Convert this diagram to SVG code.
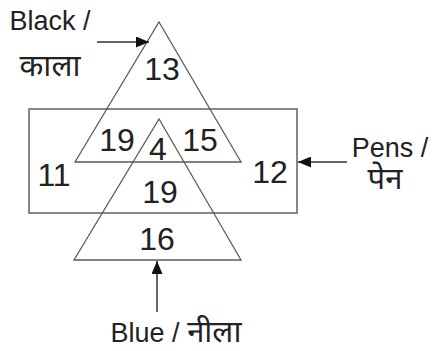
<svg xmlns="http://www.w3.org/2000/svg" width="432" height="351" viewBox="0 0 432 351">
<style>
.shape{fill:none;stroke:#5a5a5a;stroke-width:1.3}
.box{fill:none;stroke:#6a6a6a;stroke-width:1.6}
.num{font-family:"Liberation Sans",Arial,sans-serif;font-size:32px;fill:#222;text-anchor:middle}
.lbl{font-family:"Liberation Sans",Arial,"Noto Sans Devanagari",sans-serif;font-size:27px;fill:#222;text-anchor:middle}
.dev{font-size:31px}
.conn{stroke:#333;stroke-width:1.5;fill:none}
</style>
<defs>
<marker id="arr" viewBox="0 0 10 10" refX="10" refY="5" markerWidth="13" markerHeight="11" markerUnits="userSpaceOnUse" orient="auto" preserveAspectRatio="none">
<path d="M0,0 L10,5 L0,10 z" fill="#111"/>
</marker>
</defs>
<rect width="432" height="351" fill="#fff"/>
<g id="pens">
<rect class="box" x="29" y="109" width="268" height="104"/>
<text class="lbl" x="390" y="157">Pens /</text>
<text class="lbl dev" x="385" y="189">पेन</text>
</g>
<g id="black">
<polygon class="shape" points="159,22 241,162 75,162"/>
<text class="lbl" x="50" y="30">Black /</text>
<text class="lbl dev" x="50" y="76">काला</text>
</g>
<g id="blue">
<polygon class="shape" points="159,119 241,260 74,260"/>
<text class="lbl" x="176" y="342">Blue / <tspan class="dev">नीला</tspan></text>
</g>
<g id="numbers">
<text class="num" x="162" y="80">13</text>
<text class="num" x="117" y="151">19</text>
<text class="num" x="158" y="160">4</text>
<text class="num" x="200" y="151">15</text>
<text class="num" x="54" y="186">11</text>
<text class="num" x="160" y="203">19</text>
<text class="num" x="270" y="183">12</text>
<text class="num" x="157" y="250">16</text>
</g>
<g id="connectors">
<line class="conn" x1="97" y1="42" x2="149" y2="42" marker-end="url(#arr)"/>
<line class="conn" x1="347" y1="162" x2="298" y2="162" marker-end="url(#arr)"/>
<line class="conn" x1="157" y1="312" x2="157" y2="261" marker-end="url(#arr)"/>
</g>
</svg>
